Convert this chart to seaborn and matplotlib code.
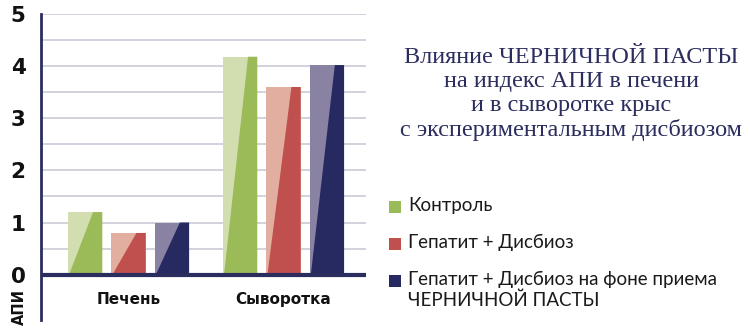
import matplotlib
matplotlib.use("Agg")
import matplotlib.pyplot as plt
import seaborn as sns
import pandas as pd
from matplotlib.patches import Polygon

categories = ["Печень", "Сыворотка"]
series = ["Контроль", "Гепатит + Дисбиоз", "Гепатит + Дисбиоз на фоне приема\nЧЕРНИЧНОЙ ПАСТЫ"]
control = [1.2, 4.18]
hepatitis = [0.8, 3.6]
hepatitis_paste = [1.0, 4.02]
yticks = [0, 1, 2, 3, 4, 5]
title = "Влияние ЧЕРНИЧНОЙ ПАСТЫ\nна индекс АПИ в печени\nи в сыворотке крыс\nс экспериментальным дисбиозом"
ylabel = "АПИ"

dark = ["#9bbb59", "#c0504d", "#272a61"]
light = ["#d3deb0", "#e2ae9f", "#8a82a3"]
navy = "#2b2d5e"

rows = []
for s, vals in zip(series, [control, hepatitis, hepatitis_paste]):
    for c, v in zip(categories, vals):
        rows.append({"cat": c, "series": s, "val": v})
df = pd.DataFrame(rows)

sns.set_theme(style="white")
plt.rcParams["font.family"] = ["DejaVu Sans"]

fig = plt.figure(figsize=(7.5, 3.29), dpi=100)
W, H = 750, 329
ax = fig.add_axes([41 / W, 1 - 320 / H, (366 - 41) / W, (320 - 14) / H])

sns.barplot(data=df, x="cat", y="val", hue="series", order=categories,
            hue_order=series, palette=light, width=0.84, gap=0.21,
            saturation=1, ax=ax, legend=False, linewidth=0, zorder=3)

ax.set_ylim(-0.87, 5.0)
ax.set_xlim(-0.565, 1.532)

# dark overlay polygons derived from bars
bars = [p for p in ax.patches]
for i, p in enumerate(bars):
    x0 = p.get_x(); w = p.get_width(); h = p.get_height()
    col = dark[i // len(categories)]
    poly = Polygon([(x0 + 0.03 * w, 0), (x0 + 0.73 * w, h), (x0 + w, h), (x0 + w, 0)],
                   closed=True, facecolor=col, edgecolor="none", zorder=4)
    ax.add_patch(poly)

# gridlines
for g in [0.5 * k for k in range(1, 11)]:
    ax.axhline(g, color="#cfcfdb", lw=1.3, zorder=1)
ax.axhline(0, color=navy, lw=3, zorder=5)

for sp in ["top", "right", "bottom"]:
    ax.spines[sp].set_visible(False)
ax.spines["left"].set_color(navy)
ax.spines["left"].set_linewidth(2)

ax.set_yticks(yticks)
ax.set_yticklabels([str(t) for t in yticks], fontsize=15.5, fontweight="heavy", color="#111111")
ax.tick_params(axis="y", length=0, pad=11)
ax.set_xticks([])
ax.set_xlabel("")
ax.set_ylabel("")

for i, c in enumerate(categories):
    ax.text(i, -0.48, c, ha="center", va="center", fontsize=11, fontweight="bold", color="#111111")

fig.text(19 / W, 1 - 307 / H, ylabel, rotation=90, ha="center", va="center",
         fontsize=10.5, fontweight="bold", color="#111111")

fig.text(571 / W, 1 - 94 / H, title, ha="center", va="center", fontsize=17.5,
         family=["Liberation Serif", "DejaVu Serif"], color=navy, linespacing=1.18)

# legend
leg_y = [207, 244, 281]
for col, s, y in zip(dark, series, leg_y):
    fig.patches.append(plt.Rectangle((389 / W, 1 - (y + 6) / H), 12 / W, 12 / H,
                                     transform=fig.transFigure, facecolor=col, edgecolor="none"))
    fig.text(408 / W, 1 - (y - 10) / H, s, ha="left", va="top", fontsize=13.5,
             family=["Lato", "DejaVu Sans"], color="#1a1a1a", linespacing=1.2)

fig.savefig("out.png", dpi=100)
